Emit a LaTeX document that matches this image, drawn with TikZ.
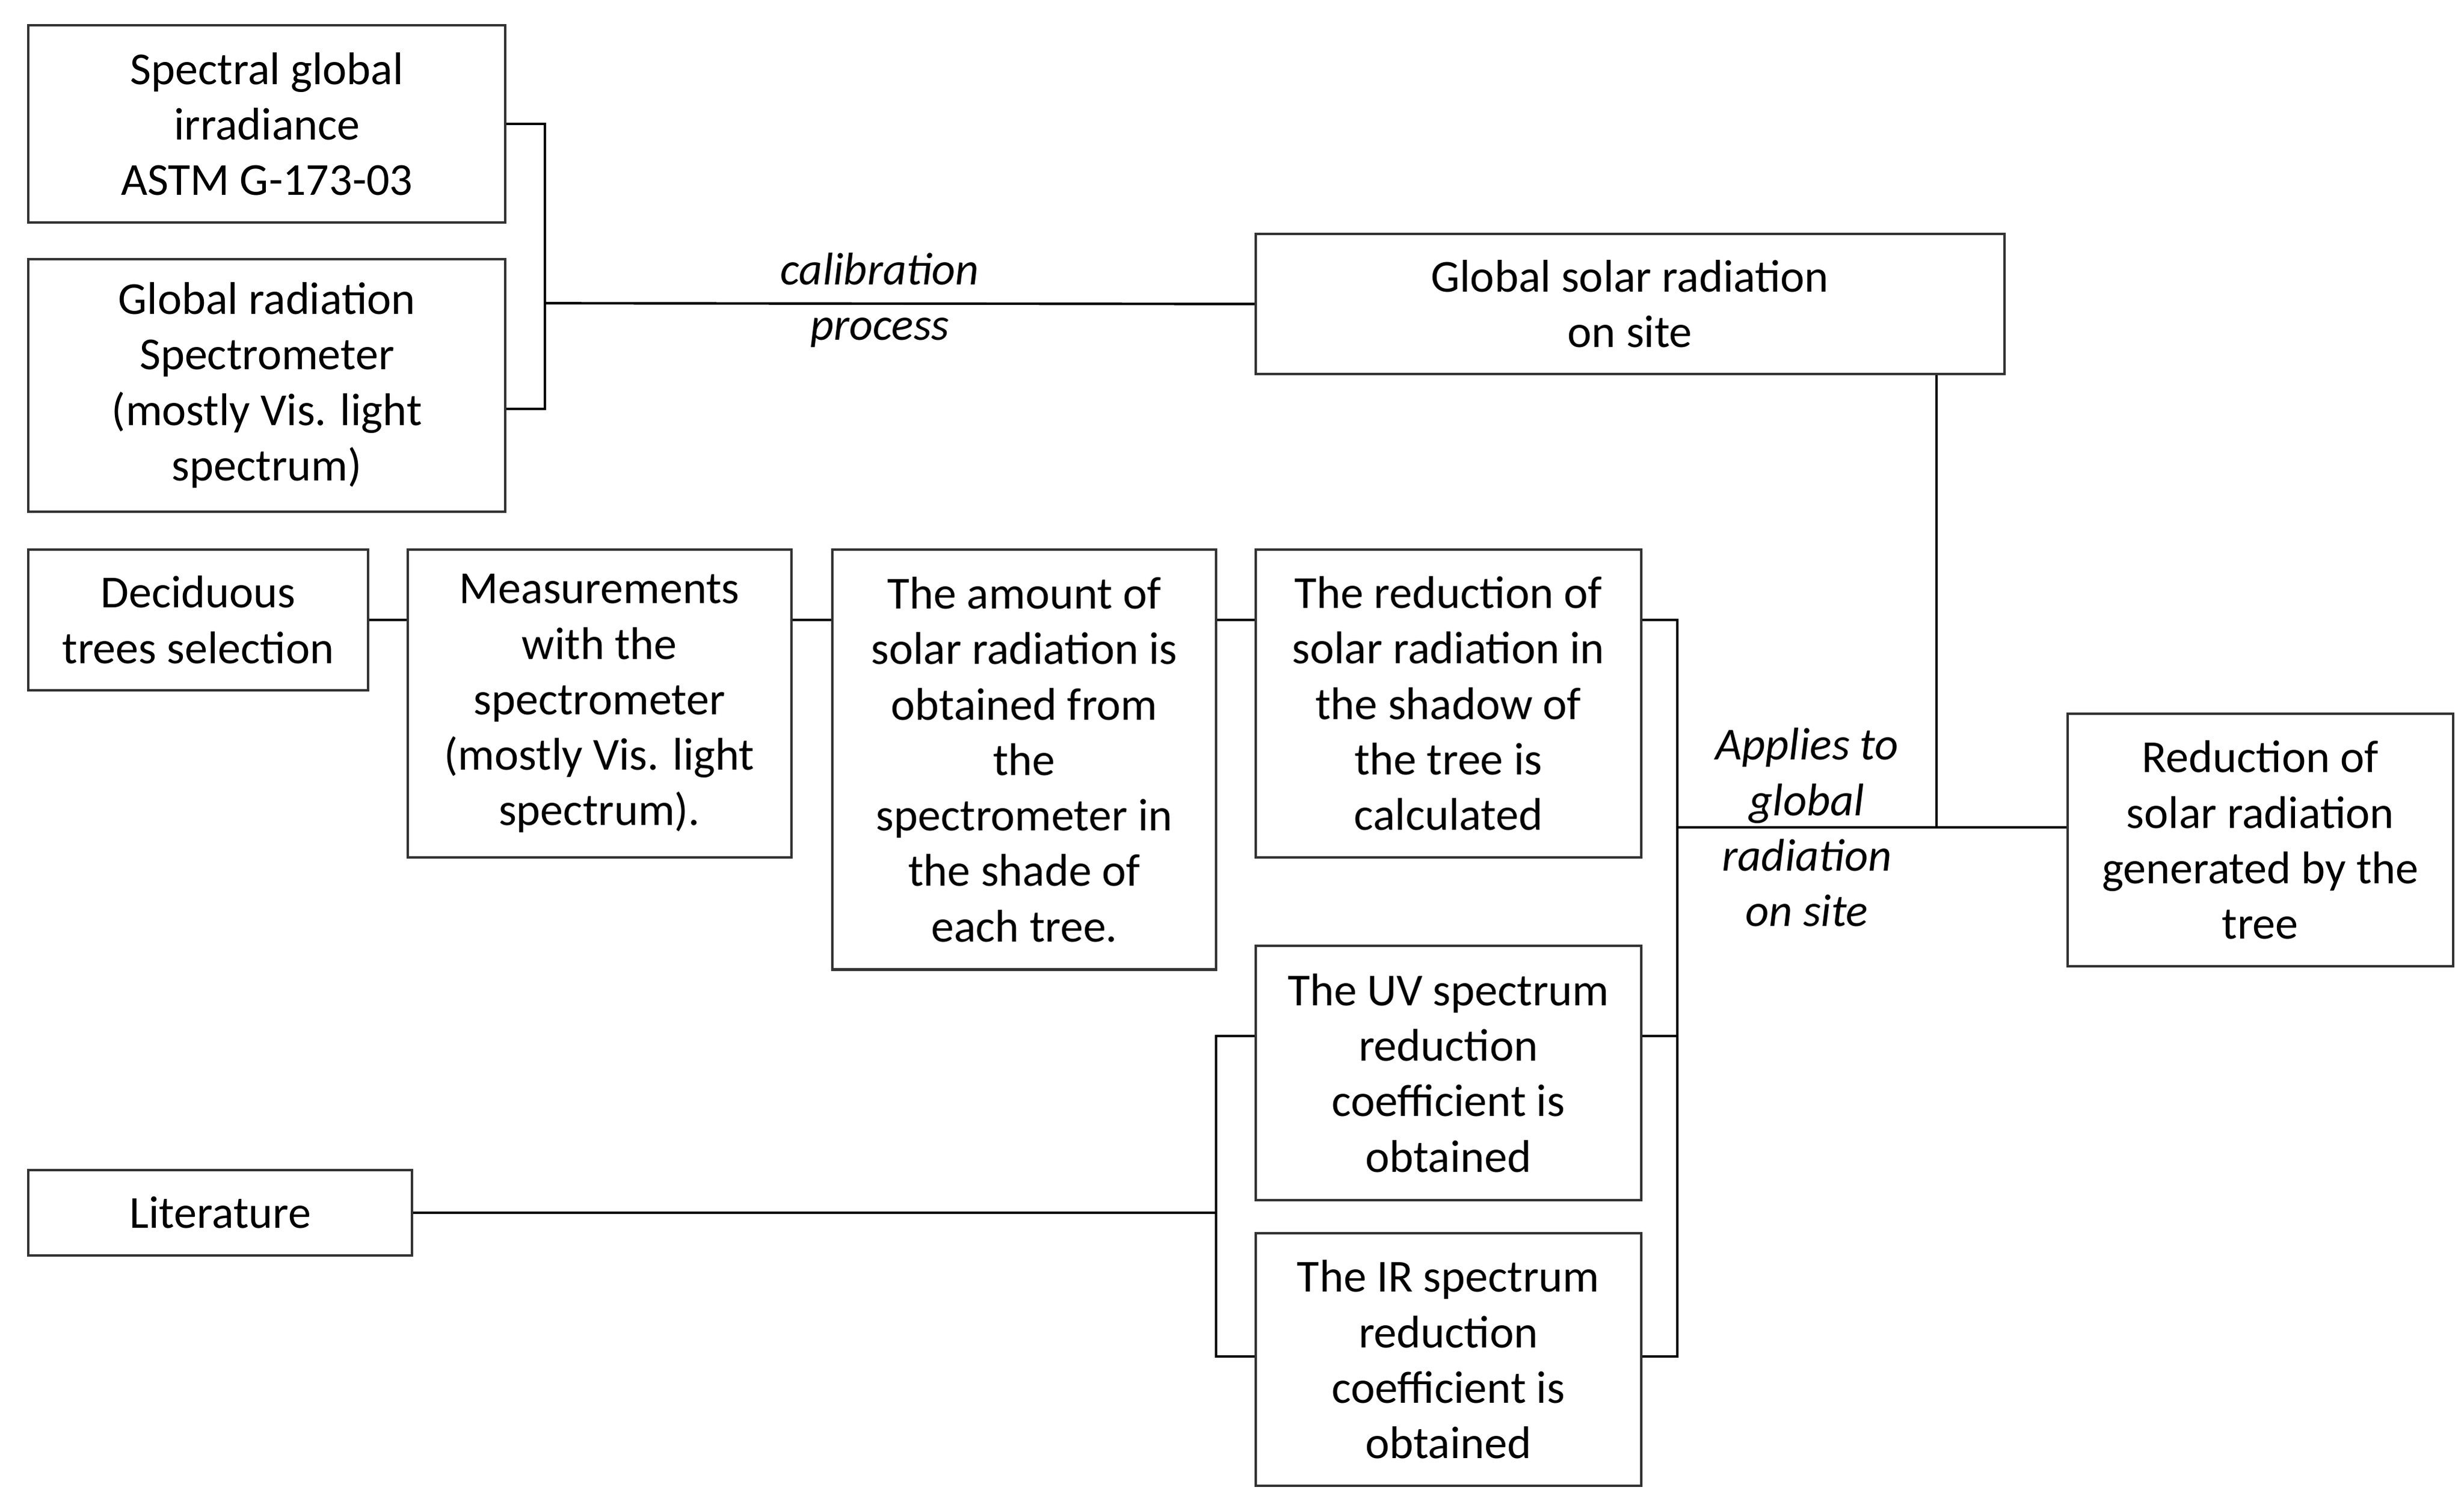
\documentclass[tikz,border=0pt]{standalone}
\usepackage{fontspec}
\setmainfont{Carlito}
\begin{document}
\begin{tikzpicture}[x=0.02cm,y=-0.02cm,
  box/.style={draw=black!80,line width=0.9pt,align=center,inner sep=2pt,font=\fontsize{16.5}{20}\selectfont},
  ln/.style={line width=0.9pt},
  lab/.style={font=\fontsize{16.5}{20}\selectfont\itshape,align=center}]
\useasboundingbox (0,0) rectangle (1560,947);
\node[box,minimum width=6.04cm,minimum height=2.5cm] (A) at (169,78.5) {Spectral global\\irradiance\\ASTM G-173-03};
\node[box,minimum width=6.04cm,minimum height=3.2cm] (B) at (169,244) {Global radiation\\Spectrometer\\(mostly Vis. light\\spectrum)};
\node[box,minimum width=9.48cm,minimum height=1.78cm] (C) at (1032,192.5) {Global solar radiation\\on site};
\node[box,minimum width=4.3cm,minimum height=1.78cm] (D) at (125.5,392.5) {Deciduous\\trees selection};
\node[box,minimum width=4.86cm,minimum height=3.9cm] (E) at (379.5,445.5) {Measurements\\with the\\spectrometer\\(mostly Vis. light\\spectrum).};
\node[box,minimum width=4.86cm,minimum height=5.32cm] (F) at (648.5,481) {The amount of\\solar radiation is\\obtained from\\the\\spectrometer in\\the shade of\\each tree.};
\node[box,minimum width=4.88cm,minimum height=3.9cm] (G) at (917,445.5) {The reduction of\\solar radiation in\\the shadow of\\the tree is\\calculated};
\node[box,minimum width=4.88cm,minimum height=3.2cm] (H) at (1431,532) {Reduction of\\solar radiation\\generated by the\\tree};
\node[box,minimum width=4.88cm,minimum height=3.22cm] (I) at (917,679.5) {The UV spectrum\\reduction\\coefficient is\\obtained};
\node[box,minimum width=4.88cm,minimum height=3.2cm] (J) at (917,861) {The IR spectrum\\reduction\\coefficient is\\obtained};
\node[box,minimum width=4.86cm,minimum height=1.08cm] (K) at (139.5,768) {Literature};
% calibration bracket
\coordinate (j1) at (345,192);
\draw[ln] (A.east) -| (j1);
\draw[ln] ([yshift=-0.3cm]B.east) -| (j1);
\draw[ln] (j1) -- (C.west);
\node[lab] (cal) at (557,190) {calibration\\process};
% chain
\draw[ln] (D.east) -- (D.east -| E.west);
\draw[ln] (E.west |- D.east) ++(0,0) (E.east |- D.east) -- (F.west |- D.east);
\draw[ln] (F.east |- D.east) -- (G.west |- D.east);
% right bracket
\coordinate (j2) at (1062,524);
\coordinate (j3) at (1226,524);
\draw[ln] (G.east |- D.east) -| (j2);
\draw[ln] (I.east |- 0,656) -| (j2);
\draw[ln] (J.east |- 0,859) -| (j2);
\draw[ln] (j2) -- (H.west |- j2);
\draw[ln] (C.south -| j3) -- (j3);
\node[lab] (app) at (1144,524) {Applies to\\global\\radiation\\on site};
% literature bracket
\coordinate (j4) at (770,768);
\draw[ln] (K.east) -- (j4);
\draw[ln] (I.west |- 0,656) -| (j4);
\draw[ln] (J.west |- 0,859) -| (j4);
\end{tikzpicture}
\end{document}
